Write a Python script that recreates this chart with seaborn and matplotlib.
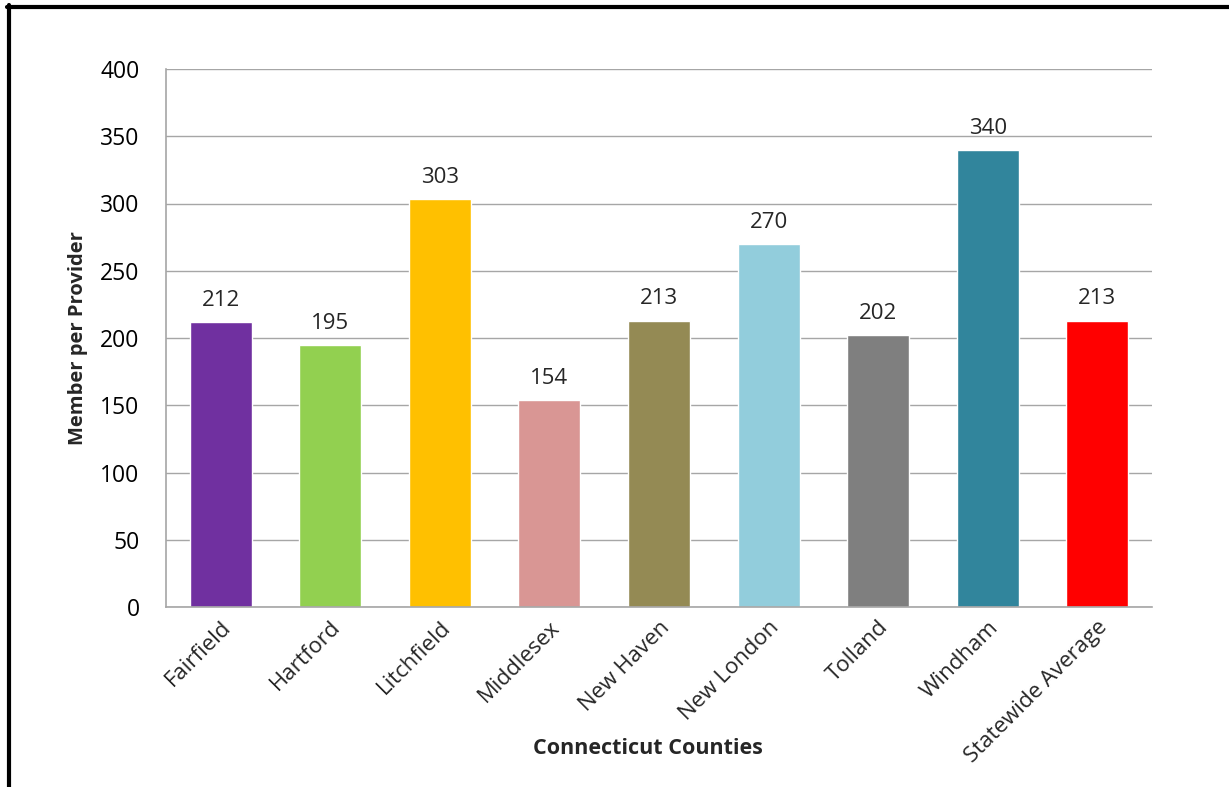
import matplotlib
matplotlib.use("Agg")
import matplotlib.pyplot as plt
from matplotlib.lines import Line2D
import seaborn as sns
import pandas as pd

counties = ["Fairfield", "Hartford", "Litchfield", "Middlesex", "New Haven",
            "New London", "Tolland", "Windham", "Statewide Average"]
members_per_provider = [212, 195, 303, 154, 213, 270, 202, 340, 213]
bar_colors = ["#7030A0", "#92D050", "#FFC000", "#D99694", "#948A54",
              "#92CDDC", "#7F7F7F", "#31859C", "#FF0000"]
y_ticks = [0, 50, 100, 150, 200, 250, 300, 350, 400]

sns.set_style("white")
plt.rcParams["font.family"] = ["Open Sans", "DejaVu Sans"]

df = pd.DataFrame({"County": counties, "Members": members_per_provider})

fig = plt.figure(figsize=(12.29, 7.87), dpi=100)
ax = fig.add_axes([166 / 1229, 1 - 607 / 787, (1152 - 166) / 1229, (607 - 69) / 787])

sns.barplot(data=df, x="County", y="Members", hue="County",
            palette=bar_colors, width=0.565, legend=False, ax=ax,
            saturation=1)

ax.set_ylim(0, 400)
ax.set_yticks(y_ticks)
ax.set_xlim(-0.5, len(counties) - 0.5)
ax.yaxis.grid(True, color="#A6A6A6", linewidth=1)
ax.set_axisbelow(True)
for side in ("top", "right"):
    ax.spines[side].set_visible(False)
for side in ("left", "bottom"):
    ax.spines[side].set_color("#A6A6A6")
    ax.spines[side].set_linewidth(1.2)

ax.tick_params(axis="y", labelsize=16.5, pad=19, length=0, colors="#000000")
ax.tick_params(axis="x", labelsize=16, pad=7, length=0)
for lbl in ax.get_xticklabels():
    lbl.set_rotation(45)
    lbl.set_ha("right")
    lbl.set_rotation_mode("anchor")

for i, v in enumerate(members_per_provider):
    ax.annotate(f"{v}", (i, v), xytext=(0, 8), textcoords="offset points",
                ha="center", va="bottom", fontsize=16)

ax.set_xlabel("Connecticut Counties", fontsize=15.5, fontweight="bold")
ax.set_ylabel("Member per Provider", fontsize=14.5, fontweight="bold")
ax.xaxis.set_label_coords((648 - 166) / 986, -(749 - 607) / 538)
ax.xaxis.label.set_va("center")
ax.yaxis.set_label_coords(-(166 - 78) / 986, 0.5)
ax.yaxis.label.set_va("center")

# frame along the left and top edges
fig.add_artist(Line2D([8.5 / 1229, 8.5 / 1229], [0, 1 - 5 / 787],
                      transform=fig.transFigure, color="black", linewidth=3))
fig.add_artist(Line2D([7 / 1229, 1], [1 - 7 / 787, 1 - 7 / 787],
                      transform=fig.transFigure, color="black", linewidth=3))

fig.savefig("out.png", dpi=100)
